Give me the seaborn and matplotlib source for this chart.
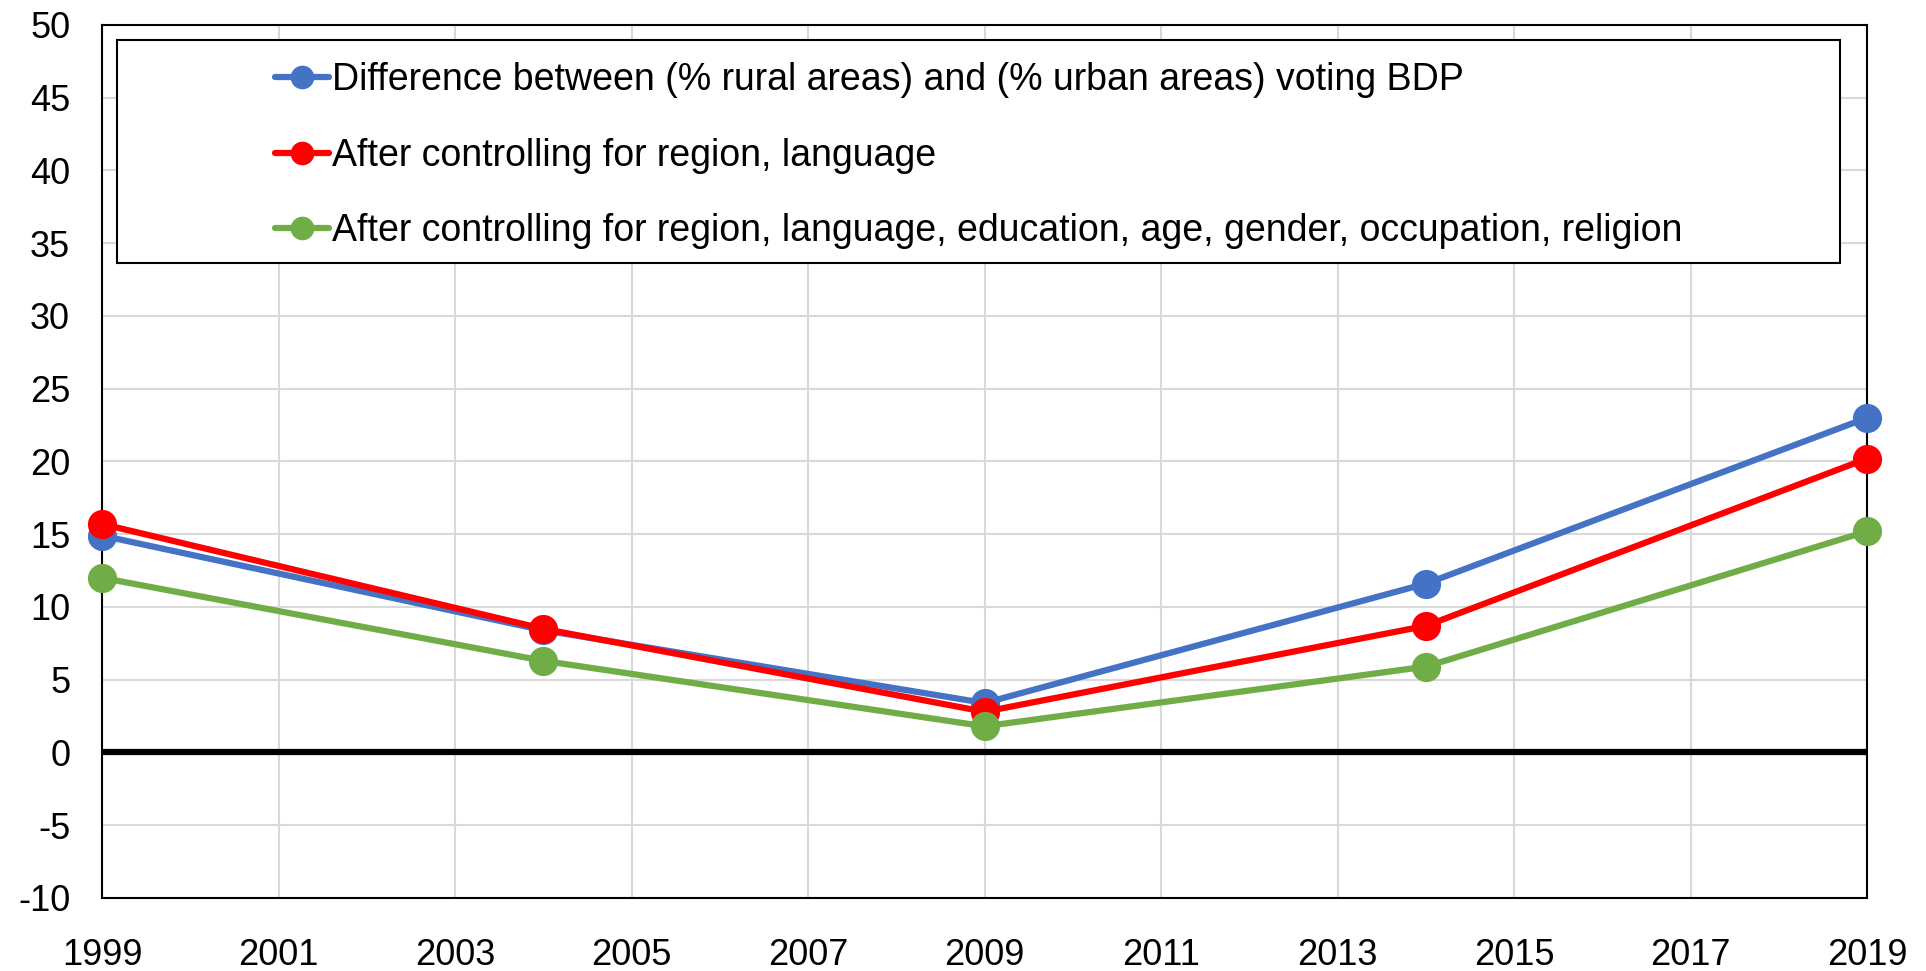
import pandas as pd
import matplotlib
matplotlib.use("Agg")
import matplotlib.pyplot as plt
import seaborn as sns
from matplotlib.patches import Rectangle

sns.set_theme(style="whitegrid")
plt.rcParams["font.family"] = ["Liberation Sans", "DejaVu Sans"]
plt.rcParams["axes.unicode_minus"] = False
plt.rcParams["text.color"] = "black"

years = [1999, 2004, 2009, 2014, 2019]
diff_raw = [14.9, 8.4, 3.4, 11.6, 23.0]
ctrl_region_lang = [15.7, 8.5, 2.8, 8.7, 20.2]
ctrl_all = [12.0, 6.3, 1.8, 5.9, 15.2]

labels = [
    "Difference between (% rural areas) and (% urban areas) voting BDP",
    "After controlling for region, language",
    "After controlling for region, language, education, age, gender, occupation, religion",
]
colors = ["#4472C4", "#FF0000", "#70AD47"]

df = pd.concat([
    pd.DataFrame({"year": years, "value": diff_raw, "series": labels[0]}),
    pd.DataFrame({"year": years, "value": ctrl_region_lang, "series": labels[1]}),
    pd.DataFrame({"year": years, "value": ctrl_all, "series": labels[2]}),
])

fig = plt.figure(figsize=(19.26, 9.71), dpi=100)
ax = fig.add_axes([0.053, 0.0752, 0.9164, 0.8991])

sns.lineplot(data=df, x="year", y="value", hue="series", hue_order=labels,
             palette=colors, marker="o", markersize=21, markeredgewidth=0,
             linewidth=4.5, ax=ax, legend=False)
for line in ax.lines:
    line.set_clip_on(False)
    line.set_zorder(5)

ax.axhline(0, color="black", linewidth=4.5, zorder=4)

ax.set_xlim(1999, 2019)
ax.set_ylim(-10, 50)
ax.set_xticks(range(1999, 2020, 2))
ax.set_yticks(range(-10, 51, 5))
ax.set_xlabel("")
ax.set_ylabel("")
ax.grid(True, color="#d9d9d9", linewidth=1.5)
for s in ax.spines.values():
    s.set_color("black")
    s.set_linewidth(1.5)
    s.set_visible(True)
ax.tick_params(axis="both", length=0, labelsize=26, colors="black")
ax.tick_params(axis="y", pad=23)
ax.tick_params(axis="x", pad=29)

# legend box
x0, x1, y0, y1 = 0.0085, 0.9847, 0.7274, 0.9828
ax.add_patch(Rectangle((x0, y0), x1 - x0, y1 - y0, transform=ax.transAxes,
                       facecolor="white", edgecolor="black", linewidth=1.5, zorder=6))
handles = [plt.Line2D([], [], color=c, marker="o", markersize=17, markeredgewidth=0,
                      linewidth=4.5) for c in colors]
leg = ax.legend(handles, labels, loc="center",
                bbox_to_anchor=(x0, y0 - 0.005, x1 - x0, y1 - y0), bbox_transform=ax.transAxes,
                frameon=False, fontsize=27, handlelength=1.45, handletextpad=0.08,
                labelspacing=1.05, borderaxespad=0)
for t in leg.get_texts():
    t.set_color("black")
leg.set_zorder(7)

fig.savefig("out.png", dpi=100)
